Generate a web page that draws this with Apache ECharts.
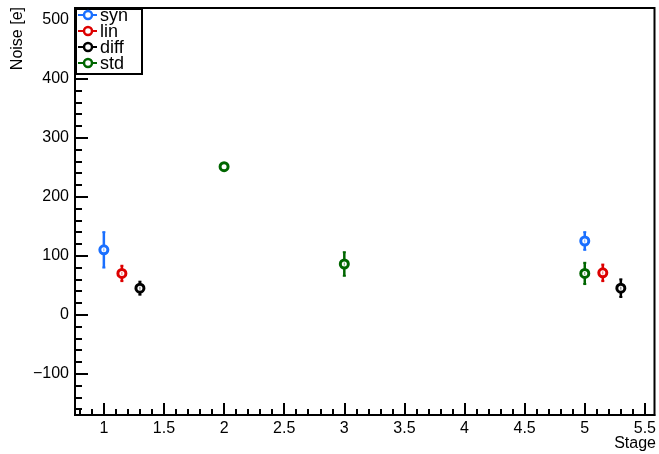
<!DOCTYPE html>
<html>
<head>
<meta charset="utf-8">
<script src="https://cdn.jsdelivr.net/npm/echarts@6/dist/echarts.min.js"></script>
<style>html,body{margin:0;padding:0;background:#fff;}#c{width:659px;height:454px;}</style>
</head>
<body>
<div id="c"></div>
<script>
// ---- data ----
var seriesNames = ['syn', 'lin', 'diff', 'std'];
var synX = [1, 5],        synY = [110, 125],     synErr = [30, 15];
var linX = [1.15, 5.15],  linY = [70, 71],       linErr = [13, 14];
var diffX = [1.3, 5.3],   diffY = [45, 45],      diffErr = [11, 15];
var stdX = [2, 3, 5],     stdY = [251, 86, 70],  stdErr = [3, 20, 18];
var xTickLabels = [1, 1.5, 2, 2.5, 3, 3.5, 4, 4.5, 5, 5.5];
var yTickLabels = [-100, 0, 100, 200, 300, 400, 500];
var xTitle = 'Stage';
var yTitle = 'Noise [e]';

// axis ranges
var X_MIN = 0.76, X_MAX = 5.58, Y_MIN = -170, Y_MAX = 520;

// minor tick positions (0.1 steps on x, 20 steps on y)
function steps(from, to, step, dec) {
  var out = [];
  for (var v = from; v <= to + step / 1000; v += step) out.push(+v.toFixed(dec));
  return out;
}
var xMinorTicks = steps(0.8, 5.5, 0.1, 2);
var yMinorTicks = steps(-160, 520, 20, 0);

var colors = {syn: '#1a6fff', lin: '#dd0000', diff: '#000000', std: '#006600'};
var FONT = '"Liberation Sans", Arial, Helvetica, sans-serif';

function pts(xs, ys, es) {
  return xs.map(function (x, i) { return [x, ys[i], es[i]]; });
}
var groups = [
  {name: 'syn', data: pts(synX, synY, synErr)},
  {name: 'lin', data: pts(linX, linY, linErr)},
  {name: 'diff', data: pts(diffX, diffY, diffErr)},
  {name: 'std', data: pts(stdX, stdY, stdErr)}
];

var series = [];
groups.forEach(function (g) {
  var col = colors[g.name];
  series.push({
    type: 'custom',
    name: g.name,
    data: g.data,
    xAxisIndex: 0, yAxisIndex: 0,
    z: 3,
    silent: true,
    renderItem: function (params, api) {
      var x = api.value(0), y = api.value(1), e = api.value(2);
      var c = api.coord([x, y]);
      var t = api.coord([x, y + e]);
      var b = api.coord([x, y - e]);
      return {
        type: 'group',
        children: [
          {type: 'line', shape: {x1: t[0], y1: t[1], x2: b[0], y2: b[1]}, style: {stroke: col, lineWidth: 2.5}},
          {type: 'line', shape: {x1: t[0] - 1.5, y1: t[1], x2: t[0] + 1.5, y2: t[1]}, style: {stroke: col, lineWidth: 2}},
          {type: 'line', shape: {x1: b[0] - 1.5, y1: b[1], x2: b[0] + 1.5, y2: b[1]}, style: {stroke: col, lineWidth: 2}},
          {type: 'circle', shape: {cx: c[0], cy: c[1], r: 4}, style: {fill: '#fff', stroke: col, lineWidth: 3}},
          {type: 'line', shape: {x1: c[0], y1: c[1] - 1.5, x2: c[0], y2: c[1] + 1.5}, style: {stroke: col, lineWidth: 1, opacity: e > 5 ? 0.6 : 0}}
        ]
      };
    }
  });
});

// legend built as graphic (ROOT-style box)
var gfx = [{
  type: 'rect', left: 75, top: 8, shape: {width: 66, height: 65},
  style: {fill: '#fff', stroke: '#000', lineWidth: 2}, z: 100
}];
seriesNames.forEach(function (n, i) {
  var cy = 15 + i * 16;
  gfx.push({type: 'line', shape: {x1: 78, y1: cy, x2: 97, y2: cy}, style: {stroke: colors[n], lineWidth: 2}, z: 101});
  gfx.push({type: 'circle', shape: {cx: 88, cy: cy, r: 4}, style: {fill: '#fff', stroke: colors[n], lineWidth: 2.5}, z: 102});
  gfx.push({type: 'text', x: 100, y: cy + 1, style: {text: n, font: '18px ' + FONT, fill: '#000', verticalAlign: 'middle', align: 'left'}, z: 102});
});
gfx.push({type: 'text', x: 18, y: 7, rotation: Math.PI / 2,
  style: {text: yTitle, font: '16px ' + FONT, fill: '#000', align: 'right', verticalAlign: 'middle'}, z: 50});
gfx.push({type: 'text', x: 656, y: 444,
  style: {text: xTitle, font: '16px ' + FONT, fill: '#000', align: 'right', verticalAlign: 'middle'}, z: 50});

var labelStyle = {color: '#000', fontSize: 16, fontFamily: FONT, margin: 6};

var chart = echarts.init(document.getElementById('c'), null, {renderer: 'canvas'});
chart.setOption({
  animation: false,
  backgroundColor: '#fff',
  grid: {left: 75, right: 3, top: 8, bottom: 39, show: true, borderColor: '#000', borderWidth: 2, backgroundColor: 'transparent'},
  xAxis: [{
    type: 'value', min: X_MIN, max: X_MAX, position: 'bottom',
    axisLine: {show: true, onZero: false, lineStyle: {color: '#000', width: 2}},
    axisTick: {show: true, inside: true, length: 12, customValues: xTickLabels, lineStyle: {color: '#000', width: 2}},
    minorTick: {show: false},
    splitLine: {show: false},
    axisLabel: Object.assign({customValues: xTickLabels}, labelStyle)
  }, {
    type: 'value', min: X_MIN, max: X_MAX, position: 'bottom',
    axisLine: {show: false, onZero: false},
    axisTick: {show: true, inside: true, length: 6, customValues: xMinorTicks, lineStyle: {color: '#000', width: 2}},
    splitLine: {show: false},
    axisLabel: {show: false}
  }],
  yAxis: [{
    type: 'value', min: Y_MIN, max: Y_MAX, position: 'left',
    axisLine: {show: true, onZero: false, lineStyle: {color: '#000', width: 2}},
    axisTick: {show: true, inside: true, length: 13, customValues: yTickLabels, lineStyle: {color: '#000', width: 2}},
    minorTick: {show: false},
    splitLine: {show: false},
    axisLabel: Object.assign({customValues: yTickLabels,
      formatter: function (v) { return String(v).replace('-', '\u2212'); }}, labelStyle)
  }, {
    type: 'value', min: Y_MIN, max: Y_MAX, position: 'left',
    axisLine: {show: false, onZero: false},
    axisTick: {show: true, inside: true, length: 7, customValues: yMinorTicks, lineStyle: {color: '#000', width: 2}},
    splitLine: {show: false},
    axisLabel: {show: false}
  }],
  series: series,
  graphic: gfx
});
</script>
</body>
</html>
